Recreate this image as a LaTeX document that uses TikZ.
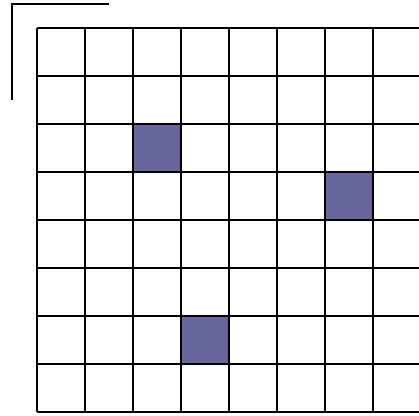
\documentclass[tikz,border=0pt]{standalone}
\definecolor{cellfill}{RGB}{102,102,154}
\begin{document}
\begin{tikzpicture}[x=1pt,y=-1pt,
  gridline/.style={line width=1.6pt,black},
  bracket/.style={line width=1.6pt,black},
  marked/.style={fill=cellfill}]
\useasboundingbox (0,0) rectangle (419,415);
\clip (0,0) rectangle (419,415);
% marked cells
\fill[marked] (133,124) rectangle (181,172);
\fill[marked] (325,172) rectangle (373,220);
\fill[marked] (181,316) rectangle (229,364);
% grid
\foreach \i in {0,...,8} {
  \draw[gridline] (37+48*\i,28) -- (37+48*\i,412);
  \draw[gridline] (37,28+48*\i) -- (425,28+48*\i);
}
% corner bracket
\draw[bracket] (109,4) -- (12,4) -- (12,100);
\end{tikzpicture}
\end{document}
